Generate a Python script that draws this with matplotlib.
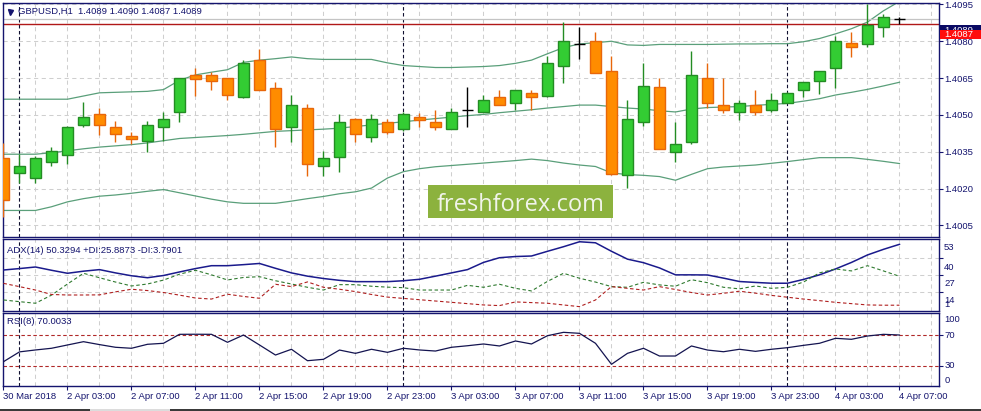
import matplotlib
matplotlib.use('Agg')
import matplotlib.pyplot as plt
from matplotlib.patches import Rectangle
from matplotlib.lines import Line2D
import numpy as np

plt.rcParams['lines.scale_dashes'] = False
plt.rcParams['font.family'] = ['Liberation Sans', 'DejaVu Sans']

# ---------------- data ----------------
x_labels = ['30 Mar 2018', '2 Apr 03:00', '2 Apr 07:00', '2 Apr 11:00', '2 Apr 15:00',
            '2 Apr 19:00', '2 Apr 23:00', '3 Apr 03:00', '3 Apr 07:00', '3 Apr 11:00',
            '3 Apr 15:00', '3 Apr 19:00', '3 Apr 23:00', '4 Apr 03:00', '4 Apr 07:00']
x_label_bars = [0, 4, 8, 12, 16, 20, 24, 28, 32, 36, 40, 44, 48, 52, 56]
day_separators = [1, 25, 49]

opens = [1.40326, 1.40263, 1.40242, 1.40310, 1.40338, 1.40458, 1.40503, 1.40452, 1.40413, 1.40392,
         1.40450, 1.40512, 1.40662, 1.40662, 1.40649, 1.40572, 1.40722, 1.40610, 1.40452, 1.40529,
         1.40293, 1.40330, 1.40483, 1.40411, 1.40473, 1.40443, 1.40490, 1.40473, 1.40443, 1.40520,
         1.40512, 1.40572, 1.40550, 1.40590, 1.40578, 1.40700, 1.40790, 1.40799, 1.40679, 1.40254,
         1.40472, 1.40614, 1.40351, 1.40390, 1.40649, 1.40542, 1.40510, 1.40542, 1.40519, 1.40550,
         1.40600, 1.40640, 1.40690, 1.40791, 1.40790, 1.40857, 1.40890]
highs = [1.40384, 1.40340, 1.40332, 1.40371, 1.40454, 1.40551, 1.40530, 1.40474, 1.40430, 1.40474,
         1.40513, 1.40650, 1.40693, 1.40676, 1.40652, 1.40722, 1.40769, 1.40633, 1.40581, 1.40543,
         1.40354, 1.40503, 1.40486, 1.40503, 1.40482, 1.40510, 1.40506, 1.40521, 1.40530, 1.40614,
         1.40580, 1.40603, 1.40603, 1.40602, 1.40740, 1.40880, 1.40859, 1.40839, 1.40740, 1.40559,
         1.40710, 1.40650, 1.40473, 1.40761, 1.40710, 1.40649, 1.40559, 1.40602, 1.40590, 1.40594,
         1.40635, 1.40680, 1.40821, 1.40837, 1.40950, 1.40911, 1.40900]
lows = [1.40084, 1.40221, 1.40221, 1.40291, 1.40300, 1.40450, 1.40419, 1.40390, 1.40381, 1.40351,
        1.40394, 1.40471, 1.40578, 1.40600, 1.40559, 1.40570, 1.40600, 1.40368, 1.40390, 1.40253,
        1.40253, 1.40269, 1.40390, 1.40390, 1.40422, 1.40435, 1.40450, 1.40440, 1.40443, 1.40450,
        1.40512, 1.40542, 1.40518, 1.40518, 1.40572, 1.40630, 1.40728, 1.40671, 1.40254, 1.40204,
        1.40455, 1.40360, 1.40308, 1.40381, 1.40529, 1.40506, 1.40481, 1.40501, 1.40510, 1.40547,
        1.40572, 1.40587, 1.40608, 1.40737, 1.40776, 1.40818, 1.40870]
closes = [1.40152, 1.40293, 1.40323, 1.40353, 1.40452, 1.40490, 1.40460, 1.40422, 1.40400, 1.40460,
          1.40483, 1.40649, 1.40647, 1.40638, 1.40580, 1.40710, 1.40602, 1.40443, 1.40540, 1.40302,
          1.40323, 1.40473, 1.40422, 1.40482, 1.40430, 1.40502, 1.40479, 1.40450, 1.40512, 1.40520,
          1.40559, 1.40542, 1.40602, 1.40572, 1.40710, 1.40799, 1.40790, 1.40671, 1.40261, 1.40482,
          1.40619, 1.40363, 1.40383, 1.40663, 1.40550, 1.40519, 1.40550, 1.40510, 1.40559, 1.40590,
          1.40633, 1.40679, 1.40799, 1.40776, 1.40867, 1.40899, 1.40890]

bb_upper = [1.40564, 1.40564, 1.40564, 1.40564, 1.40564, 1.40577, 1.40590, 1.40592, 1.40594, 1.40596,
            1.40603, 1.40641, 1.40663, 1.40674, 1.40684, 1.40714, 1.40723, 1.40729, 1.40736, 1.40729,
            1.40726, 1.40726, 1.40726, 1.40726, 1.40712, 1.40701, 1.40697, 1.40693, 1.40693, 1.40695,
            1.40697, 1.40701, 1.40710, 1.40723, 1.40749, 1.40774, 1.40789, 1.40794, 1.40800, 1.40785,
            1.40783, 1.40787, 1.40787, 1.40787, 1.40787, 1.40788, 1.40789, 1.40789, 1.40790, 1.40790,
            1.40798, 1.40811, 1.40830, 1.40851, 1.40878, 1.40924, 1.40962]
bb_middle = [1.40340, 1.40340, 1.40340, 1.40346, 1.40354, 1.40362, 1.40369, 1.40374, 1.40379, 1.40386,
             1.40395, 1.40404, 1.40408, 1.40412, 1.40416, 1.40421, 1.40427, 1.40433, 1.40436, 1.40439,
             1.40442, 1.40446, 1.40453, 1.40459, 1.40466, 1.40472, 1.40479, 1.40485, 1.40491, 1.40497,
             1.40502, 1.40509, 1.40515, 1.40521, 1.40528, 1.40534, 1.40540, 1.40540, 1.40534, 1.40528,
             1.40524, 1.40517, 1.40512, 1.40524, 1.40530, 1.40532, 1.40534, 1.40539, 1.40543, 1.40547,
             1.40556, 1.40566, 1.40581, 1.40592, 1.40604, 1.40618, 1.40633]
bb_lower = [1.40111, 1.40111, 1.40111, 1.40126, 1.40146, 1.40159, 1.40169, 1.40174, 1.40181, 1.40189,
            1.40196, 1.40183, 1.40170, 1.40157, 1.40146, 1.40140, 1.40140, 1.40140, 1.40149, 1.40159,
            1.40168, 1.40179, 1.40187, 1.40202, 1.40243, 1.40269, 1.40281, 1.40289, 1.40294, 1.40299,
            1.40304, 1.40309, 1.40314, 1.40320, 1.40314, 1.40304, 1.40296, 1.40290, 1.40264, 1.40257,
            1.40254, 1.40249, 1.40234, 1.40258, 1.40281, 1.40288, 1.40292, 1.40296, 1.40303, 1.40310,
            1.40318, 1.40326, 1.40326, 1.40326, 1.40319, 1.40311, 1.40302]

adx = [30.7, 31.8, 33.0, 30.5, 28.2, 29.8, 31.0, 28.5, 26.3, 24.8,
       26.5, 29.2, 31.8, 34.0, 34.0, 34.8, 35.7, 32.0, 28.5, 26.0,
       24.2, 22.8, 21.8, 21.8, 21.8, 22.5, 23.6, 26.0, 28.5, 31.0,
       36.5, 40.1, 41.0, 41.4, 45.0, 48.5, 52.3, 51.5, 45.0, 39.0,
       36.3, 32.3, 27.0, 27.0, 26.9, 24.5, 21.9, 21.2, 20.6, 20.6,
       23.5, 27.0, 31.5, 36.5, 42.2, 46.5, 50.33]
plus_di = [7.8, 6.5, 5.3, 11.5, 20.0, 28.2, 24.8, 21.5, 18.5, 20.0,
           23.0, 27.5, 30.5, 27.0, 23.1, 25.0, 25.6, 22.5, 20.0, 17.5,
           15.4, 19.5, 19.5, 18.3, 17.6, 17.2, 15.4, 15.4, 15.4, 19.0,
           17.5, 19.8, 16.7, 14.7, 22.0, 28.2, 24.4, 21.5, 18.0, 17.5,
           21.3, 19.3, 18.3, 23.3, 21.0, 17.5, 16.3, 18.5, 16.7, 17.5,
           21.5, 28.5, 31.5, 30.0, 34.0, 30.0, 25.89]
minus_di = [20.5, 18.0, 15.4, 12.0, 11.6, 11.6, 11.7, 14.0, 16.0, 15.0,
            13.5, 11.5, 9.3, 8.5, 12.2, 10.5, 9.1, 19.8, 18.0, 21.6,
            17.5, 16.0, 14.2, 12.0, 10.0, 9.0, 8.0, 7.0, 6.0, 5.0,
            4.0, 3.5, 6.3, 5.8, 5.3, 4.0, 2.7, 7.8, 18.0, 16.7,
            15.4, 18.0, 15.8, 13.5, 11.6, 12.9, 14.5, 13.0, 11.3, 9.9,
            8.5, 7.3, 6.0, 5.0, 4.0, 3.8, 3.79]
rsi = [35.2, 48.0, 50.5, 52.7, 57.0, 61.3, 57.5, 54.0, 52.7, 57.9,
       59.2, 70.9, 71.0, 70.9, 60.5, 70.0, 57.0, 43.9, 51.4, 36.5,
       38.3, 50.4, 46.1, 51.4, 47.4, 52.7, 50.5, 49.1, 54.0, 56.0,
       58.3, 55.7, 62.2, 58.3, 69.1, 73.5, 72.2, 59.2, 31.8, 46.1,
       52.7, 42.6, 42.6, 55.7, 50.4, 48.2, 51.4, 48.7, 51.4, 53.5,
       56.5, 59.2, 65.7, 64.4, 68.7, 70.9, 70.0]

price_levels = [1.4005, 1.4020, 1.4035, 1.4050, 1.4065, 1.4080, 1.4095]
adx_grid = [40, 27, 14]
rsi_levels = [70, 30]
ask_price = 1.4087
bid_price = 1.4089

# ---------------- style ----------------
NAVY = '#14146e'
GRID = '#cfcfcf'
BULL_FILL, BULL_EDGE = '#33cc33', '#238c23'
BEAR_FILL, BEAR_EDGE = '#ff8c00', '#e8660a'
BB_COL = '#5a9f7a'
FS = 6.8

W, H = 981, 411
fig = plt.figure(figsize=(W / 100, H / 100), dpi=100)
fig.patch.set_facecolor('white')


def box(x0, y0, x1, y1):
    return [x0 / W, 1 - y1 / H, (x1 - x0) / W, (y1 - y0) / H]


ax = fig.add_axes(box(3, 3, 939, 237))
ax2 = fig.add_axes(box(3, 239, 939, 310.7))
ax3 = fig.add_axes(box(3, 312.7, 939, 386))

n = len(opens)
idx = np.arange(n)
XLIM = (-0.03, 58.47)

for a in (ax, ax2, ax3):
    a.set_xlim(*XLIM)
    for s in a.spines.values():
        s.set_color(NAVY)
        s.set_linewidth(1.0)
    for g in range(0, 59, 2):
        a.axvline(g, color=GRID, lw=0.75, ls=(0, (3, 2.5)), zorder=0)
    for d in day_separators:
        a.axvline(d - 0.03, color='#101030', lw=0.8, ls=(0, (2.5, 1.8)), zorder=1)
    a.yaxis.tick_right()
    a.tick_params(axis='y', direction='out', length=2.9, width=0.8, color=NAVY,
                  labelcolor=NAVY, labelsize=FS, pad=0.8)
    a.tick_params(axis='x', bottom=False, labelbottom=False)

# ---------------- main price panel ----------------
ax.set_ylim(1.400029, 1.409557)
for p in price_levels:
    ax.axhline(p, color=GRID, lw=0.75, ls=(0, (3, 2.5)), zorder=0)
ax.set_yticks(price_levels)
ax.set_yticklabels(['%.4f' % p for p in price_levels])

ax.plot(idx, bb_upper, color=BB_COL, lw=0.9, zorder=2)
ax.plot(idx, bb_middle, color=BB_COL, lw=0.9, zorder=2)
ax.plot(idx, bb_lower, color=BB_COL, lw=0.9, zorder=2)

ax.axhline(bid_price, color='#c4c4c4', lw=0.9, zorder=2)
ax.axhline(ask_price, color='#b01818', lw=1.0, zorder=2)

o = np.array(opens); c = np.array(closes); hi = np.array(highs); lo = np.array(lows)
bull = c > o
bear = c < o
doji = c == o
ax.vlines(idx[bull], lo[bull], hi[bull], color=BULL_EDGE, lw=1.0, zorder=3)
ax.vlines(idx[bear], lo[bear], hi[bear], color=BEAR_EDGE, lw=1.0, zorder=3)
ax.bar(idx[bull], (c - o)[bull], bottom=o[bull], width=0.64, color=BULL_FILL,
       edgecolor=BULL_EDGE, linewidth=1.0, zorder=4)
ax.bar(idx[bear], (o - c)[bear], bottom=c[bear], width=0.64, color=BEAR_FILL,
       edgecolor=BEAR_EDGE, linewidth=1.0, zorder=4)
ax.vlines(idx[doji], lo[doji], hi[doji], color='black', lw=1.0, zorder=4)
ax.hlines(c[doji], idx[doji] - 0.36, idx[doji] + 0.36, color='black', lw=1.0, zorder=4)

# ---------------- ADX panel ----------------
ax2.set_ylim(-0.4, 54.4)
for v in adx_grid:
    ax2.axhline(v, color=GRID, lw=0.75, ls=(0, (3, 2.5)), zorder=0)
ax2.set_yticks(adx_grid)
ax2.set_yticklabels([''] * len(adx_grid))
ax2.plot(idx, adx, color='#1a1a8c', lw=1.1, zorder=3)
ax2.plot(idx, plus_di, color='#2f7a2f', lw=0.8, ls=(0, (2.5, 1.8)), zorder=3)
ax2.plot(idx, minus_di, color='#b02020', lw=0.8, ls=(0, (2.5, 1.8)), zorder=3)
for lab, fy in [('53', 0.888), ('40', 0.609), ('27', 0.377), ('14', 0.145), ('1', 0.089)]:
    ax2.text(1.0055, fy, lab, transform=ax2.transAxes, color=NAVY, fontsize=FS,
             ha='left', va='center', clip_on=False)

# ---------------- RSI panel ----------------
ax3.set_ylim(3.5, 99.1)
for v in rsi_levels:
    ax3.axhline(v, color='#b02828', lw=0.8, ls=(0, (2.5, 1.8)), zorder=1)
ax3.set_yticks(rsi_levels)
ax3.set_yticklabels([''] * len(rsi_levels))
ax3.plot(idx, rsi, color='#141450', lw=0.9, zorder=3)
for lab, fy in [('100', 0.914), ('70', 0.686), ('30', 0.277), ('0', 0.072)]:
    ax3.text(1.0055, fy, lab, transform=ax3.transAxes, color=NAVY, fontsize=FS,
             ha='left', va='center', clip_on=False)

ax3.set_xticks(x_label_bars)
ax3.set_xticklabels(x_labels)
ax3.tick_params(axis='x', bottom=True, labelbottom=True, direction='out', length=2.9,
                width=0.8, color=NAVY, labelcolor=NAVY, labelsize=FS, pad=1.2)
for t in ax3.get_xticklabels():
    t.set_ha('left')

# ---------------- header texts ----------------
fig.add_artist(Line2D([9.5 / W], [1 - 11.8 / H], marker='v', markersize=3.6,
                      color=NAVY, transform=fig.transFigure))
fig.text(18.3 / W, 1 - 11.7 / H, 'GBPUSD,H1  1.4089 1.4090 1.4087 1.4089',
         color=NAVY, fontsize=FS, ha='left', va='center')
fig.text(7.3 / W, 1 - 250 / H, 'ADX(14) 50.3294 +DI:25.8873 -DI:3.7901',
         color=NAVY, fontsize=FS, ha='left', va='center')
fig.text(7.3 / W, 1 - 321.7 / H, 'RSI(8) 70.0033',
         color=NAVY, fontsize=FS, ha='left', va='center')

# ---------------- price labels on the right ----------------
fig.add_artist(Rectangle((940 / W, 1 - 36 / H), 41 / W, 11 / H, transform=fig.transFigure,
                         facecolor='#0a0a64', edgecolor='none', zorder=5))
fig.text(944 / W, 1 - 30.7 / H, '%.4f' % bid_price, color='white', fontsize=FS,
         ha='left', va='center', zorder=6)
fig.add_artist(Rectangle((940 / W, 1 - 39.5 / H), 41 / W, 9.8 / H, transform=fig.transFigure,
                         facecolor='#ff0d0d', edgecolor='none', zorder=7))
fig.text(944 / W, 1 - 34.8 / H, '%.4f' % ask_price, color='white', fontsize=FS,
         ha='left', va='center', zorder=8)

# ---------------- watermark ----------------
fig.add_artist(Rectangle((428 / W, 1 - 218 / H), 185 / W, 33 / H, transform=fig.transFigure,
                         facecolor='#8cb23e', edgecolor='none', zorder=5))
fig.text(520.5 / W, 1 - 210.7 / H, 'freshforex.com', family=['Open Sans', 'DejaVu Sans'],
         fontsize=17.0, color='#f1f4ea', ha='center', va='baseline', zorder=6)

# ---------------- bottom strip ----------------
fig.add_artist(Rectangle((0, 0), 1, 2.5 / H, transform=fig.transFigure,
                         facecolor='#3a3a3a', edgecolor='none', zorder=5))
fig.add_artist(Rectangle((90 / W, 0), 80 / W, 2.5 / H, transform=fig.transFigure,
                         facecolor='#dcdcdc', edgecolor='none', zorder=6))

fig.savefig('out.png', dpi=100)
